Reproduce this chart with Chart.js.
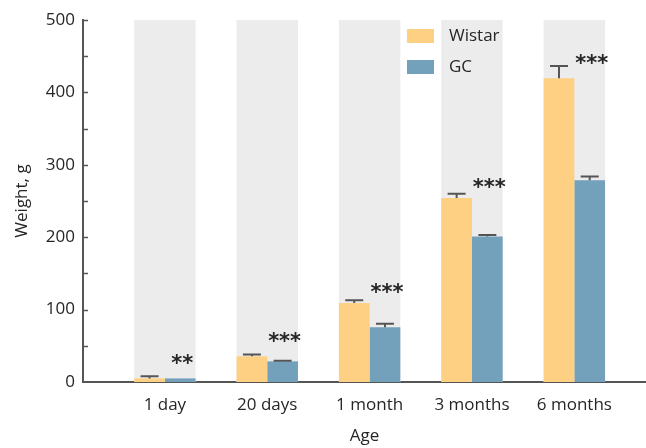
<!DOCTYPE html>
<html>
<head>
<meta charset="utf-8">
<script src="https://cdn.jsdelivr.net/npm/chart.js@4"></script>
<style>
  html, body { margin: 0; padding: 0; background: #fff; }
  #wrap { width: 646px; height: 448px; position: relative; }
</style>
</head>
<body>
<div id="wrap"><canvas id="c" width="646" height="448"></canvas></div>
<script>
// ---- data ----
const categories = ["1 day", "20 days", "1 month", "3 months", "6 months"];
const seriesNames = ["Wistar", "GC"];
const wistar = [5, 35.5, 109, 254, 419.5];
const gc = [5, 28.5, 75.5, 201, 278.5];
const wistarErr = [3, 2.5, 4, 6, 17];
const gcErr = [0, 1, 5, 2, 5.5];
const sigLabels = ["**", "***", "***", "***", "***"];
const sigHeights = [30, 60, 128, 273, 444];
const yTicks = [0, 100, 200, 300, 400, 500];

const colWistar = "#FDD083";
const colGC = "#73A0BB";
const colBand = "#ECECEC";
const colAxis = "#555555";
const colText = "#262626";
const fontFam = "'Open Sans', 'Noto Sans', sans-serif";

const toPts = arr => arr.map((v, i) => ({ x: i, y: v }));

const decorPlugin = {
  id: "decor",
  beforeDatasetsDraw(chart) {
    const ctx = chart.ctx;
    const y = chart.scales.y;
    const m0 = chart.getDatasetMeta(0), m1 = chart.getDatasetMeta(1);
    ctx.save();
    ctx.fillStyle = colBand;
    categories.forEach((c, i) => {
      const b0 = m0.data[i], b1 = m1.data[i];
      const l = b0.x - b0.width / 2, r = b1.x + b1.width / 2;
      const top = y.getPixelForValue(500), bot = y.getPixelForValue(0);
      ctx.fillRect(l, top, r - l, bot - top);
    });
    ctx.restore();
  },
  afterDatasetsDraw(chart) {
    const ctx = chart.ctx;
    const y = chart.scales.y;
    const area = chart.chartArea;
    ctx.save();
    ctx.strokeStyle = colAxis;
    ctx.lineWidth = 2;
    [[0, wistar, wistarErr], [1, gc, gcErr]].forEach(([di, vals, errs]) => {
      const meta = chart.getDatasetMeta(di);
      vals.forEach((v, i) => {
        if (!errs[i]) return;
        const bx = meta.data[i].x;
        const yTop = y.getPixelForValue(v);
        const yE = y.getPixelForValue(v + errs[i]);
        ctx.beginPath();
        ctx.moveTo(bx, yTop);
        ctx.lineTo(bx, yE);
        ctx.moveTo(bx - 9, yE);
        ctx.lineTo(bx + 9, yE);
        ctx.stroke();
      });
    });
    const m1 = chart.getDatasetMeta(1);
    ctx.fillStyle = colText;
    ctx.font = "bold 21px 'DejaVu Sans', sans-serif";
    ctx.textAlign = "center";
    ctx.textBaseline = "middle";
    sigLabels.forEach((s, i) => {
      const bx = m1.data[i].x + 2;
      ctx.fillText(s, bx, y.getPixelForValue(sigHeights[i]) + 4);
    });
    ctx.strokeStyle = colAxis;
    ctx.lineWidth = 1.5;
    for (let v = 50; v <= 500; v += 50) {
      const py = Math.round(y.getPixelForValue(v)) + 0.5;
      ctx.beginPath();
      ctx.moveTo(area.left, py);
      ctx.lineTo(area.left + 5, py);
      ctx.stroke();
    }
    ctx.restore();
  },
  afterDraw(chart) {
    const ctx = chart.ctx;
    ctx.save();
    const cols = [colWistar, colGC];
    const lx = 407, ly = 29, gap = 31;
    seriesNames.forEach((n, i) => {
      ctx.fillStyle = cols[i];
      ctx.fillRect(lx, ly + i * gap, 27, 14);
      ctx.fillStyle = colText;
      ctx.font = "17px " + fontFam;
      ctx.textAlign = "left";
      ctx.textBaseline = "middle";
      ctx.fillText(n, lx + 42, ly + 7 + i * gap);
    });
    ctx.restore();
  }
};

new Chart(document.getElementById("c"), {
  type: "bar",
  data: {
    datasets: [
      { label: seriesNames[0], data: toPts(wistar), backgroundColor: colWistar, borderWidth: 0 },
      { label: seriesNames[1], data: toPts(gc), backgroundColor: colGC, borderWidth: 0 }
    ]
  },
  options: {
    responsive: false,
    animation: false,
    devicePixelRatio: 1,
    categoryPercentage: 0.6,
    barPercentage: 1,
    layout: { padding: { top: 20, right: 0, left: 0, bottom: 0 } },
    plugins: { legend: { display: false }, tooltip: { enabled: false } },
    scales: {
      x: {
        type: "linear",
        offset: false,
        min: -0.8,
        max: 4.7,
        afterBuildTicks: s => { s.ticks = categories.map((c, i) => ({ value: i })); },
        afterFit: s => { s.height = 66; },
        grid: { display: false, drawTicks: false },
        border: { display: true, color: colAxis, width: 2 },
        ticks: {
          padding: 13,
          color: colText,
          font: { family: fontFam, size: 17 },
          callback: v => categories[v] ?? ""
        },
        title: {
          display: true, text: "Age", color: colText,
          font: { family: fontFam, size: 17 },
          padding: { top: 0, bottom: 2 }
        }
      },
      y: {
        min: 0,
        max: 500,
        afterBuildTicks: s => { s.ticks = yTicks.map(v => ({ value: v })); },
        afterFit: s => { s.width = 83; },
        grid: { display: false, drawTicks: false },
        border: { display: true, color: colAxis, width: 2 },
        ticks: {
          padding: 8,
          color: colText,
          font: { family: fontFam, size: 17 }
        },
        title: {
          display: true, text: "Weight, g", color: colText,
          font: { family: fontFam, size: 17 },
          padding: { top: 12, bottom: 0 }
        }
      }
    }
  },
  plugins: [decorPlugin]
});
</script>
</body>
</html>
